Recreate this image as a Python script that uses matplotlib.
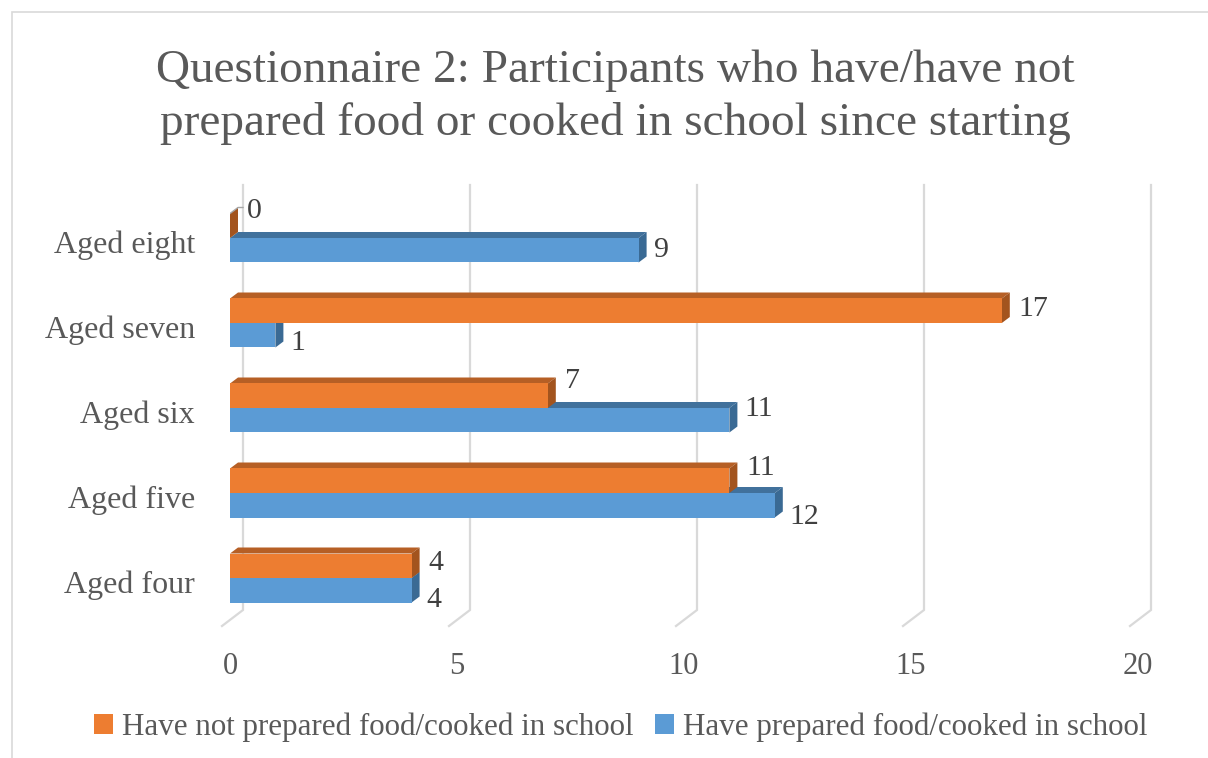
import numpy as np
import matplotlib.pyplot as plt
from matplotlib.patches import Polygon, Rectangle

plt.rcParams['font.family'] = ['Liberation Serif', 'DejaVu Serif']

categories = ['Aged four', 'Aged five', 'Aged six', 'Aged seven', 'Aged eight']
not_prepared = [4, 11, 7, 17, 0]
prepared = [4, 12, 11, 1, 9]
series_names = ['Have not prepared food/cooked in school',
                'Have prepared food/cooked in school']
xticks = [0, 5, 10, 15, 20]

W, H = 1208, 758
fig = plt.figure(figsize=(W / 100, H / 100), dpi=100)

# pixel layout of the plot area (x: 0..20 -> 230..1138 px, one category = 85 px)
x0_px, px_per_x = 230, 45.4
y0_px, px_per_y = 180, 85      # from bottom of figure
ylo, yhi = -1.4, 4.7
ax = fig.add_axes([x0_px / W, (y0_px + ylo * px_per_y) / H,
                   20 * px_per_x / W, (yhi - ylo) * px_per_y / H])
ax.set_xlim(0, 20)
ax.set_ylim(ylo, yhi)
ax.axis('off')

def dx(px):
    return px / px_per_x

def dy(px):
    return px / px_per_y

txt = '#595959'
grid_c = '#D9D9D9'

# back wall gridlines with the floor edge
wall_top = dy(573 - y0_px)
floor_back = dy((H - 610) - y0_px)
floor_front = dy((H - 626) - y0_px)
for k in xticks:
    ax.plot([k + dx(13), k + dx(13), k - dx(8)],
            [wall_top, floor_back, floor_front],
            color=grid_c, lw=1.6, solid_joinstyle='miter', zorder=1,
            clip_on=False)

bar_h = dy(24.5)
ddx, ddy = dx(8), dy(6)

def bar3d(v, y, face, top, side):
    ax.add_patch(Polygon([(0, y + bar_h), (v, y + bar_h),
                          (v + ddx, y + bar_h + ddy), (ddx, y + bar_h + ddy)],
                         closed=True, fc=top, ec='none', zorder=2))
    ax.add_patch(Polygon([(v, y), (v, y + bar_h),
                          (v + ddx, y + bar_h + ddy), (v + ddx, y + ddy)],
                         closed=True, fc=side, ec='none', zorder=2))
    ax.add_patch(Rectangle((0, y), v, bar_h, fc=face, ec='none', zorder=2))
    if v == 0:
        # empty bar: only a thin outline of its top edge shows
        ax.plot([0, ddx, ddx + dx(5)], [y + bar_h, y + bar_h + ddy, y + bar_h + ddy],
                color='#A6A6A6', lw=1, zorder=2)

orange = ('#ED7D31', '#B65F25', '#A3541E')
blue = ('#5B9BD5', '#41719C', '#3A6A94')

# label nudges in pixels (up is positive) to keep the numbers apart
nudge_o = [3, 13, 15, 2, 15]
nudge_b = [-10, -12, 11, -8, 0]

for i in range(len(categories)):
    bar3d(prepared[i], i - bar_h, *blue)
    bar3d(not_prepared[i], i, *orange)

for i in range(len(categories)):
    ax.text(not_prepared[i] + dx(17), i + bar_h / 2 + dy(nudge_o[i]),
            str(not_prepared[i]), color='#404040', fontsize=21.5,
            ha='left', va='center', zorder=3)
    ax.text(prepared[i] + dx(15), i - bar_h / 2 + dy(nudge_b[i]),
            str(prepared[i]), color='#404040', fontsize=21.5,
            ha='left', va='center', zorder=3)

# category labels
for i, c in enumerate(categories):
    ax.text(-dx(35), i - dy(7), c, color=txt, fontsize=23,
            ha='right', va='center')

# value axis labels
for k in xticks:
    ax.text(k, dy((H - 666) - y0_px), str(k), color=txt, fontsize=22,
            ha='center', va='center')

fig.text(615 / W, 1 - 97 / H,
         'Questionnaire 2: Participants who have/have not\n'
         'prepared food or cooked in school since starting',
         color=txt, fontsize=34, ha='center', va='center', linespacing=1.3)

handles = [Rectangle((0, 0), 1, 1, fc=orange[0]), Rectangle((0, 0), 1, 1, fc=blue[0])]
fig.legend(handles, series_names, loc='center', bbox_to_anchor=(621 / W, 1 - 727 / H),
           ncol=2, frameon=False, fontsize=22.3, labelcolor=txt,
           handlelength=0.6, handleheight=0.6, handletextpad=0.3, columnspacing=0.7)

# chart border
fig.patches.append(Rectangle((12 / W, -0.1), 1.2, 1 - 12 / H + 0.1,
                             transform=fig.transFigure, fill=False,
                             ec='#D9D9D9', lw=1.2))

fig.savefig('out.png', dpi=100)
